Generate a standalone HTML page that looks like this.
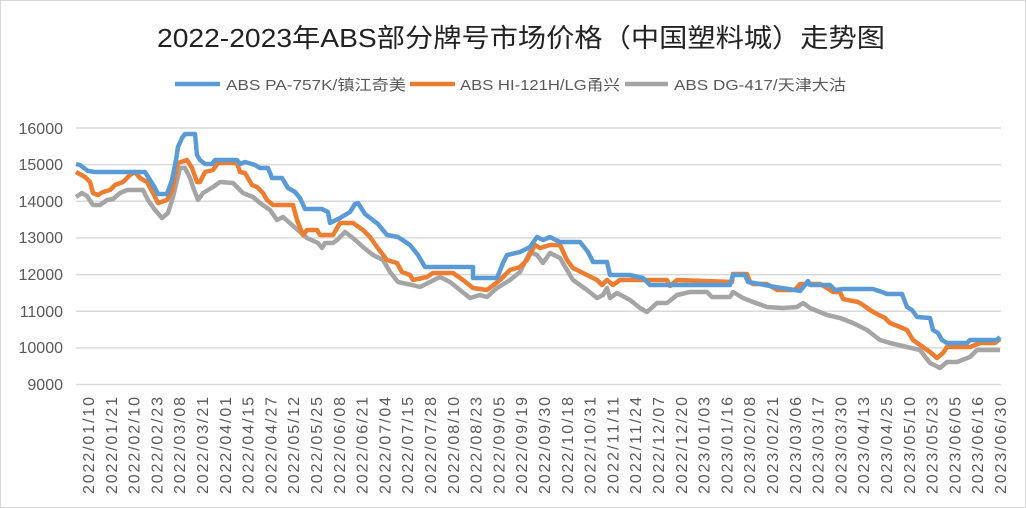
<!DOCTYPE html>
<html><head><meta charset="utf-8"><style>
html,body{margin:0;padding:0;background:#fff}
svg{display:block}
</style></head><body>
<svg width="1026" height="508" xmlns="http://www.w3.org/2000/svg" font-family="'Liberation Sans','Noto Sans CJK SC',sans-serif">
<rect x="0.5" y="0.5" width="1025" height="507" fill="#fff" stroke="#d9d9d9"/>
<text x="521" y="47" text-anchor="middle" font-size="26" fill="#222" textLength="728" lengthAdjust="spacingAndGlyphs">2022-2023年ABS部分牌号市场价格（中国塑料城）走势图</text>
<g font-size="15" fill="#595959">
<line x1="175" y1="84" x2="220" y2="84" stroke="#5B9BD5" stroke-width="4.5"/>
<text x="226" y="90" textLength="180" lengthAdjust="spacingAndGlyphs">ABS PA-757K/镇江奇美</text>
<line x1="410" y1="84" x2="455" y2="84" stroke="#ED7D31" stroke-width="4.5"/>
<text x="460" y="90" textLength="160" lengthAdjust="spacingAndGlyphs">ABS HI-121H/LG甬兴</text>
<line x1="625" y1="84" x2="668" y2="84" stroke="#A5A5A5" stroke-width="4.5"/>
<text x="674" y="90" textLength="172" lengthAdjust="spacingAndGlyphs">ABS DG-417/天津大沽</text>
</g>
<g stroke="#d9d9d9" stroke-width="1.5">
<line x1="76" y1="128" x2="1001" y2="128"/><line x1="76" y1="164.6" x2="1001" y2="164.6"/>
<line x1="76" y1="201.3" x2="1001" y2="201.3"/><line x1="76" y1="237.9" x2="1001" y2="237.9"/>
<line x1="76" y1="274.6" x2="1001" y2="274.6"/><line x1="76" y1="311.2" x2="1001" y2="311.2"/>
<line x1="76" y1="347.9" x2="1001" y2="347.9"/><line x1="76" y1="384.5" x2="1001" y2="384.5"/>
</g>
<g font-size="16" fill="#595959" text-anchor="end">
<text x="63" y="134">16000</text><text x="63" y="170">15000</text><text x="63" y="207">14000</text>
<text x="63" y="243">13000</text><text x="63" y="280">12000</text><text x="63" y="317">11000</text>
<text x="63" y="353">10000</text><text x="63" y="390">9000</text>
</g>
<g font-size="16" fill="#595959" text-anchor="end" lengthAdjust="spacingAndGlyphs">
<text transform="translate(94,397) rotate(-90)" textLength="97">2022/01/10</text>
<text transform="translate(116.8,397) rotate(-90)" textLength="97">2022/01/21</text>
<text transform="translate(139.6,397) rotate(-90)" textLength="97">2022/02/10</text>
<text transform="translate(162.4,397) rotate(-90)" textLength="97">2022/02/23</text>
<text transform="translate(185.2,397) rotate(-90)" textLength="97">2022/03/08</text>
<text transform="translate(208,397) rotate(-90)" textLength="97">2022/03/21</text>
<text transform="translate(230.8,397) rotate(-90)" textLength="97">2022/04/01</text>
<text transform="translate(253.6,397) rotate(-90)" textLength="97">2022/04/15</text>
<text transform="translate(276.4,397) rotate(-90)" textLength="97">2022/04/27</text>
<text transform="translate(299.2,397) rotate(-90)" textLength="97">2022/05/12</text>
<text transform="translate(322,397) rotate(-90)" textLength="97">2022/05/25</text>
<text transform="translate(344.8,397) rotate(-90)" textLength="97">2022/06/08</text>
<text transform="translate(367.6,397) rotate(-90)" textLength="97">2022/06/21</text>
<text transform="translate(390.4,397) rotate(-90)" textLength="97">2022/07/04</text>
<text transform="translate(413.2,397) rotate(-90)" textLength="97">2022/07/15</text>
<text transform="translate(436,397) rotate(-90)" textLength="97">2022/07/28</text>
<text transform="translate(458.8,397) rotate(-90)" textLength="97">2022/08/10</text>
<text transform="translate(481.6,397) rotate(-90)" textLength="97">2022/08/23</text>
<text transform="translate(504.4,397) rotate(-90)" textLength="97">2022/09/05</text>
<text transform="translate(527.2,397) rotate(-90)" textLength="97">2022/09/19</text>
<text transform="translate(550,397) rotate(-90)" textLength="97">2022/09/30</text>
<text transform="translate(572.8,397) rotate(-90)" textLength="97">2022/10/18</text>
<text transform="translate(595.6,397) rotate(-90)" textLength="97">2022/10/31</text>
<text transform="translate(618.4,397) rotate(-90)" textLength="97">2022/11/11</text>
<text transform="translate(641.2,397) rotate(-90)" textLength="97">2022/11/24</text>
<text transform="translate(664,397) rotate(-90)" textLength="97">2022/12/07</text>
<text transform="translate(686.8,397) rotate(-90)" textLength="97">2022/12/20</text>
<text transform="translate(709.6,397) rotate(-90)" textLength="97">2023/01/03</text>
<text transform="translate(732.4,397) rotate(-90)" textLength="97">2023/01/16</text>
<text transform="translate(755.2,397) rotate(-90)" textLength="97">2023/02/08</text>
<text transform="translate(778,397) rotate(-90)" textLength="97">2023/02/21</text>
<text transform="translate(800.8,397) rotate(-90)" textLength="97">2023/03/06</text>
<text transform="translate(823.6,397) rotate(-90)" textLength="97">2023/03/17</text>
<text transform="translate(846.4,397) rotate(-90)" textLength="97">2023/03/30</text>
<text transform="translate(869.2,397) rotate(-90)" textLength="97">2023/04/13</text>
<text transform="translate(892,397) rotate(-90)" textLength="97">2023/04/25</text>
<text transform="translate(914.8,397) rotate(-90)" textLength="97">2023/05/10</text>
<text transform="translate(937.6,397) rotate(-90)" textLength="97">2023/05/23</text>
<text transform="translate(960.4,397) rotate(-90)" textLength="97">2023/06/05</text>
<text transform="translate(983.2,397) rotate(-90)" textLength="97">2023/06/16</text>
<text transform="translate(1006,397) rotate(-90)" textLength="97">2023/06/30</text>
</g>
<g fill="none" stroke-width="4.5" stroke-linejoin="round">
<polyline stroke="#A5A5A5" points="76,197 82,193 87,196 93,205 100,205 107,200 113,199 120,193 127,190 143,190 148,200 155,210 162,218 168,213 173,197 180,168 185,168 190,178 193,187 198,200 203,193 213,187 220,182 233,183 238,188 243,193 253,197 260,203 270,210 277,220 283,217 300,232 307,238 318,243 322,248 325,243 333,243 337,240 345,232 353,238 363,247 373,255 383,260 390,272 398,282 412,285 420,287 430,282 440,277 450,282 460,290 470,298 480,295 487,297 497,288 510,280 520,272 530,252 537,255 543,263 550,253 560,258 567,270 573,280 587,290 597,298 603,295 607,288 610,298 617,293 630,300 640,308 647,312 657,303 667,303 677,295 690,292 700,292 707,292 712,297 730,297 733,292 743,298 753,302 767,307 783,308 797,307 803,303 810,308 827,315 840,318 853,323 867,330 880,340 890,343 907,347 920,350 930,363 940,368 947,362 957,362 970,357 977,350 1000,350"/>
<polyline stroke="#ED7D31" points="76,172 85,177 90,182 93,193 98,195 103,192 110,190 115,185 123,182 130,175 135,172 140,178 147,182 153,193 158,203 167,200 172,190 178,163 187,160 192,168 197,182 200,182 205,172 213,170 218,163 237,163 240,172 245,173 252,185 257,187 263,193 267,200 273,205 293,205 297,220 303,235 307,230 317,230 320,235 333,235 340,223 353,223 363,230 370,237 377,247 387,260 397,263 402,272 410,275 413,280 427,277 433,273 453,273 463,280 473,288 487,290 500,280 510,270 520,267 527,260 535,245 540,248 550,245 560,245 567,260 573,268 587,275 597,280 602,285 607,280 613,285 620,280 667,280 670,286 677,280 732,282 733,274 747,274 750,282 753,284 767,284 777,290 795,290 800,284 820,284 827,288 833,292 840,292 843,299 858,302 863,305 870,310 877,314 885,318 890,323 900,327 907,330 913,340 920,345 930,352 937,358 943,353 947,347 970,347 980,343 995,343 1000,339"/>
<polyline stroke="#5B9BD5" points="76,164 80,165 88,171 95,172 145,172 150,180 155,188 158,194 167,194 172,180 176,160 178,147 182,138 185,134 195,134 197,155 200,160 205,164 212,164 215,160 237,160 240,164 245,162 255,165 260,168 268,168 272,178 282,178 288,188 295,192 300,198 305,209 322,209 328,212 330,223 340,218 350,212 355,204 358,203 365,214 378,224 387,235 398,237 410,245 418,255 425,267 473,267 473,278 497,278 503,263 507,255 520,252 530,247 537,237 543,240 550,237 560,242 580,242 588,252 593,262 607,262 610,275 630,275 643,278 650,285 730,285 733,275 745,275 748,282 760,284 775,287 795,290 800,291 805,285 808,281 810,285 830,285 835,290 843,289 873,289 882,292 887,294 902,294 907,307 912,310 917,317 930,318 933,330 938,333 942,340 947,343 967,343 970,340 997,340 1000,337"/>
</g>
</svg>
</body></html>
